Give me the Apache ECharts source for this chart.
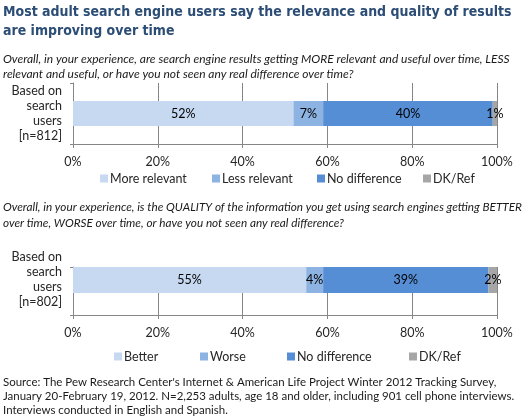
<!DOCTYPE html>
<html><head><meta charset="utf-8">
<script src="https://cdn.jsdelivr.net/npm/echarts@6/dist/echarts.min.js"></script>
<style>html,body{margin:0;padding:0;background:#fff}#c{width:530px;height:418px}</style>
</head><body><div id="c"></div>
<script>
const titleLines = ["Most adult search engine users say the relevance and quality of results", "are improving over time"];
const q1Lines = ["Overall, in your experience, are search engine results getting MORE relevant and useful over time, LESS", "relevant and useful, or have you not seen any real difference over time?"];
const q2Lines = ["Overall, in your experience, is the QUALITY of the information you get using search engines getting BETTER", "over time, WORSE over time, or have you not seen any real difference?"];
const sourceLines = ["Source: The Pew Research Center's Internet & American Life Project Winter 2012 Tracking Survey,", "January 20-February 19, 2012. N=2,253 adults, age 18 and older, including 901 cell phone interviews.", "Interviews conducted in English and Spanish."];
const yLabel1 = "Based on\nsearch\nusers\n[n=812]";
const yLabel2 = "Based on\nsearch\nusers\n[n=802]";
const names1 = ["More relevant", "Less relevant", "No difference", "DK/Ref"];
const values1 = [52, 7, 40, 1];
const names2 = ["Better", "Worse", "No difference", "DK/Ref"];
const values2 = [55, 4, 39, 2];
const xTickStep = 20;
const colors = ["#c6d9f1", "#8db3e2", "#558ed5", "#a6a6a6"];

const BODY = "Lato, 'Open Sans', sans-serif";
const TITLEF = "'Liberation Sans Narrow', 'DejaVu Sans Condensed', 'Liberation Sans', sans-serif";
const FS = 12.5;
function fit(text, style, weight, family, target) {
  const ctx = document.createElement('canvas').getContext('2d');
  ctx.font = style + ' ' + weight + ' 100px ' + family;
  return 100 * target / ctx.measureText(text).width;
}
const tSize = fit(titleLines[0], 'normal', 'bold', TITLEF, 509);
const q1Size = fit(q1Lines[0], 'italic', 'normal', BODY, 507);
const q2Size = fit(q2Lines[0], 'italic', 'normal', BODY, 519);
const sSize = fit(sourceLines[0], 'normal', 'normal', BODY, 494);

const chart = echarts.init(document.getElementById('c'), null, {renderer: 'canvas'});
const grayLine = '#868686';
function xAxis(gi) {
  return {
    type: 'value', gridIndex: gi, min: 0, max: 100, interval: xTickStep,
    axisLabel: {formatter: '{value}%', fontSize: FS, fontFamily: BODY, color: '#262626', margin: 11},
    axisLine: {show: true, lineStyle: {color: grayLine}},
    axisTick: {show: true, length: 4, lineStyle: {color: grayLine}},
    splitLine: {show: true, lineStyle: {color: grayLine, width: 1}}
  };
}
function yAxis(gi, cats) {
  return {
    type: 'category', gridIndex: gi, data: cats, inverse: true,
    axisLabel: {fontSize: FS, fontFamily: BODY, color: '#262626', lineHeight: 15, align: 'right', margin: 11},
    axisLine: {show: true, lineStyle: {color: grayLine}},
    axisTick: {show: true, length: 3, interval: 1, lineStyle: {color: grayLine}},
    splitLine: {show: false}
  };
}
function mkSeries(names, values, gi, bw, len) {
  return names.map((n, i) => ({
    name: n, type: 'bar', stack: 's' + gi, xAxisIndex: gi, yAxisIndex: gi, barWidth: bw,
    data: len === 1 ? [values[i]] : [values[i], '-'],
    itemStyle: {color: colors[i]},
    label: {show: true, position: 'inside', formatter: '{c}%', fontSize: FS, fontFamily: BODY, color: '#000'},
    emphasis: {disabled: true}
  }));
}
function legends(names, lefts, top) {
  return names.map((n, i) => ({data: [{name: n}], left: lefts[i], top: top, itemGap: 0, itemWidth: 8, itemHeight: 8, icon: 'rect', padding: 0,
    textStyle: {fontSize: FS, fontFamily: BODY, color: '#262626', padding: [0, 0, 0, -3]}, selectedMode: false}));
}
const option = {
  animation: false,
  title: [
    {text: titleLines.join('\n'), left: 3, top: 3, padding: 0, textStyle: {fontSize: tSize, fontWeight: 'bold', fontFamily: TITLEF, color: '#2c4d75', lineHeight: 19}},
    {text: q1Lines.join('\n'), left: 3, top: 52, padding: 0, textStyle: {fontSize: q1Size, fontStyle: 'italic', fontWeight: 'normal', fontFamily: BODY, color: '#1a1a1a', lineHeight: 15}},
    {text: q2Lines.join('\n'), left: 3, top: 199, padding: 0, textStyle: {fontSize: q2Size, fontStyle: 'italic', fontWeight: 'normal', fontFamily: BODY, color: '#1a1a1a', lineHeight: 16}},
    {text: sourceLines.join('\n'), left: 3, top: 375, padding: 0, textStyle: {fontSize: sSize, fontWeight: 'normal', fontFamily: BODY, color: '#1a1a1a', lineHeight: 14}}
  ],
  grid: [
    {left: 73, width: 424, top: 83, height: 61, containLabel: false, outerBoundsMode: 'none'},
    {left: 73, width: 424, top: 267, height: 48, containLabel: false, outerBoundsMode: 'none'}
  ],
  xAxis: [xAxis(0), xAxis(1)],
  yAxis: [yAxis(0, [yLabel1]), yAxis(1, [yLabel2, ''])],
  legend: legends(names1, [100, 212, 317, 423], 172).concat(legends(names2, [114, 200, 287, 409], 350)),
  series: mkSeries(names1, values1, 0, 25, 1).concat(mkSeries(names2, values2, 1, 28, 2))
};
chart.setOption(option);
</script>
</body></html>
